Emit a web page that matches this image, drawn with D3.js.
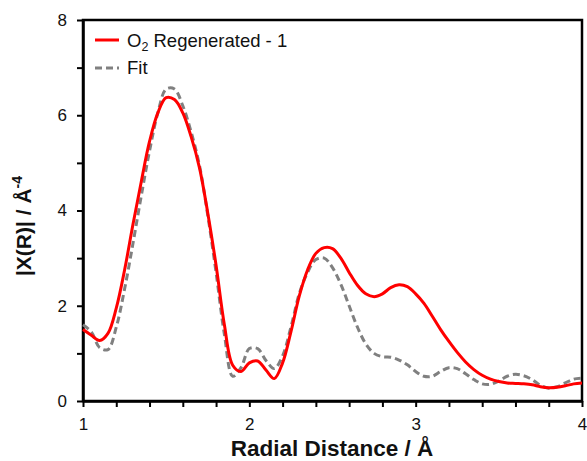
<!DOCTYPE html>
<html><head><meta charset="utf-8">
<script src="https://cdn.jsdelivr.net/npm/d3@7"></script>
<style>body{margin:0;background:#fff}svg{display:block;font-family:"Liberation Sans",Arial,sans-serif}</style>
</head><body><svg id="c" width="587" height="461"></svg>
<script>
const xs = [1.00,1.05,1.10,1.15,1.20,1.25,1.30,1.35,1.40,1.45,1.50,1.55,1.60,1.65,1.70,1.75,1.80,1.85,1.90,1.95,2.00,2.05,2.10,2.15,2.20,2.25,2.30,2.35,2.40,2.45,2.50,2.55,2.60,2.65,2.70,2.75,2.80,2.85,2.90,2.95,3.00,3.05,3.10,3.15,3.20,3.25,3.30,3.35,3.40,3.45,3.50,3.55,3.60,3.65,3.70,3.75,3.80,3.85,3.90,3.95,4.00];
const dataY = [1.50,1.38,1.27,1.42,1.95,2.75,3.70,4.60,5.45,6.05,6.37,6.33,6.05,5.55,4.90,3.95,2.85,1.60,0.75,0.62,0.80,0.84,0.65,0.47,0.80,1.45,2.20,2.75,3.10,3.22,3.20,3.00,2.70,2.43,2.25,2.19,2.25,2.38,2.44,2.40,2.25,2.05,1.78,1.50,1.25,1.02,0.82,0.66,0.54,0.46,0.41,0.38,0.37,0.36,0.34,0.30,0.28,0.29,0.32,0.36,0.38];
const fitY = [1.60,1.45,1.12,1.08,1.55,2.35,3.30,4.30,5.25,6.05,6.55,6.55,6.20,5.65,4.95,3.90,2.70,1.40,0.52,0.70,1.10,1.10,0.85,0.68,0.95,1.55,2.25,2.70,2.97,3.00,2.80,2.45,2.00,1.55,1.20,1.00,0.93,0.92,0.86,0.76,0.62,0.52,0.52,0.62,0.70,0.68,0.57,0.45,0.36,0.35,0.42,0.52,0.56,0.53,0.45,0.33,0.27,0.30,0.38,0.46,0.48];
const xTickLabels = [1,2,3,4];
const yTickLabels = [0,2,4,6,8];
const seriesNames = ["O2 Regenerated - 1","Fit"];

const svg = d3.select("#c");
const m = {l:83,r:5,t:20,b:60};
const W = 587, H = 461;
const x = d3.scaleLinear().domain([1,4]).range([m.l, W-m.r]);
const y = d3.scaleLinear().domain([0,8]).range([H-m.b, m.t]);

// frame
svg.append("rect").attr("x",m.l).attr("y",m.t).attr("width",W-m.r-m.l).attr("height",H-m.b-m.t)
  .attr("fill","none").attr("stroke","#000").attr("stroke-width",2.5);

// x axis
const xAxis = d3.axisBottom(x).tickValues(d3.range(1,4.0001,0.2)).tickSize(6).tickSizeOuter(0)
  .tickFormat(d => xTickLabels.includes(Math.round(d*1000)/1000) ? d3.format("d")(d) : "");
const gx = svg.append("g").attr("transform",`translate(0,${H-m.b})`).call(xAxis);
gx.select(".domain").attr("stroke-width",2.5);
gx.selectAll(".tick line").attr("stroke-width",2);
gx.selectAll(".tick text").attr("font-size",17).attr("fill","#111").attr("dy","1.2em").attr("font-family","Liberation Sans, Arial, sans-serif");

// y axis
const yAxis = d3.axisLeft(y).tickValues(d3.range(0,8.001,1)).tickSize(6).tickSizeOuter(0)
  .tickFormat(d => yTickLabels.includes(d) ? d : "");
const gy = svg.append("g").attr("transform",`translate(${m.l},0)`).call(yAxis);
gy.select(".domain").attr("stroke-width",2.5);
gy.selectAll(".tick line").attr("stroke-width",2);
gy.selectAll(".tick text").attr("font-size",17).attr("fill","#111").attr("x",-16).attr("font-family","Liberation Sans, Arial, sans-serif");

// lines
const pts = (ys) => xs.map((v,i)=>[v,ys[i]]);
const line = d3.line().x(d=>x(d[0])).y(d=>y(d[1])).curve(d3.curveCatmullRom.alpha(0.5));
svg.append("path").datum(pts(fitY)).attr("d",line).attr("fill","none")
  .attr("stroke","#808080").attr("stroke-width",3).attr("stroke-dasharray","7,4");
svg.append("path").datum(pts(dataY)).attr("d",line).attr("fill","none")
  .attr("stroke","#ff0000").attr("stroke-width",3);

// axis titles
svg.append("text").attr("x",332).attr("y",456).attr("text-anchor","middle")
  .attr("font-size",22.5).attr("font-weight","bold").attr("fill","#111").text("Radial Distance / Å");
const yt = svg.append("text").attr("transform","translate(31,226) rotate(-90)").attr("text-anchor","middle")
  .attr("font-size",21).attr("font-weight","bold").attr("fill","#111");
yt.append("tspan").text("|X(R)| / Å");
yt.append("tspan").attr("font-size",14).attr("dy",-9).text("-4");

// legend
const lg = svg.append("g");
lg.append("line").attr("x1",95).attr("x2",119).attr("y1",40).attr("y2",40).attr("stroke","#ff0000").attr("stroke-width",3);
lg.append("line").attr("x1",95).attr("x2",119).attr("y1",68).attr("y2",68).attr("stroke","#808080").attr("stroke-width",3).attr("stroke-dasharray","7,4");
const t1 = lg.append("text").attr("x",127).attr("y",47).attr("font-size",18.5).attr("fill","#111");
t1.append("tspan").text("O");
t1.append("tspan").attr("font-size",12.5).attr("dy",4).text("2");
t1.append("tspan").attr("dy",-4).text(" Regenerated - 1");
lg.append("text").attr("x",127).attr("y",74).attr("font-size",18.5).attr("fill","#111").text(seriesNames[1]);
</script></body></html>
